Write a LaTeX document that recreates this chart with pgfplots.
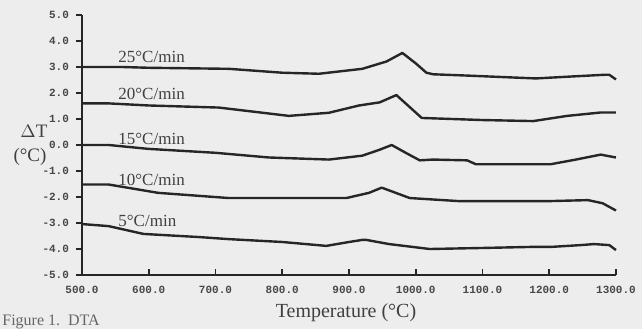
\documentclass[border=0pt]{standalone}
\usepackage{fontspec}
\setmainfont{Liberation Serif}
\newfontfamily\tickfont{Liberation Mono}
\usepackage{pgfplots}
\pgfplotsset{compat=1.18}
\tikzset{dta/.style={color=black!85, mark=none, line width=1.2pt, line join=round}}
\begin{document}
\begin{tikzpicture}[x=1pt,y=1pt]
\fill[black!7] (0,0) rectangle (321,164.5);
\path[use as bounding box] (0,0) rectangle (321,164.5);
\begin{axis}[
  at={(41pt,27pt)}, anchor=south west,
  scale only axis, width=267pt, height=130pt,
  xmin=500, xmax=1300, ymin=-5, ymax=5,
  axis x line=bottom, axis y line=left,
  axis line style={-, line width=0.9pt, black!85},
  xtick={500,600,...,1300},
  xticklabels={500.0,600.0,700.0,800.0,900.0,1000.0,1100.0,1200.0,1300.0},
  ytick={-5,-4,...,5},
  yticklabels={-5.0,-4.0,-3.0,-2.0,-1.0,0.0,1.0,2.0,3.0,4.0,5.0},
  xtick align=inside, ytick align=outside,
  major tick length=3pt,
  tick style={line width=0.8pt, black!85},
  ticklabel style={font=\tickfont\bfseries\fontsize{5.5}{6}\selectfont, text=black!72},
  xticklabel style={yshift=-2pt},
  clip=false,
]
\addplot[dta] coordinates {(500,3.0)(560,3.0)(600,2.97)(720,2.93)(800,2.78)(855,2.74)(920,2.93)(956,3.21)(980,3.54)(1000,3.14)(1016,2.78)(1026,2.72)(1077,2.67)(1180,2.56)(1230,2.63)(1282,2.7)(1290,2.7)(1300,2.52)};
\addplot[dta] coordinates {(500,1.6)(540,1.6)(600,1.52)(705,1.44)(810,1.12)(870,1.24)(915,1.52)(946,1.64)(971,1.92)(990,1.48)(1009,1.04)(1100,0.96)(1176,0.92)(1227,1.12)(1277,1.25)(1300,1.25)};
\addplot[dta] coordinates {(500,0.0)(540,0.0)(600,-0.15)(700,-0.3)(780,-0.48)(870,-0.56)(920,-0.41)(945,-0.19)(964,0.0)(985,-0.3)(1006,-0.59)(1026,-0.56)(1077,-0.59)(1090,-0.74)(1202,-0.74)(1240,-0.56)(1277,-0.37)(1300,-0.48)};
\addplot[dta] coordinates {(500,-1.52)(540,-1.52)(614,-1.84)(720,-2.04)(896,-2.04)(930,-1.84)(949,-1.64)(970,-1.84)(991,-2.04)(1066,-2.16)(1197,-2.16)(1258,-2.12)(1280,-2.24)(1300,-2.52)};
\addplot[dta] coordinates {(500,-3.04)(540,-3.12)(592,-3.42)(675,-3.54)(720,-3.62)(800,-3.73)(866,-3.88)(900,-3.73)(920,-3.65)(926,-3.65)(960,-3.81)(1021,-4.0)(1100,-3.96)(1172,-3.92)(1202,-3.92)(1247,-3.85)(1267,-3.81)(1290,-3.85)(1300,-4.04)};
\begin{scope}[every node/.style={anchor=west, inner sep=0pt, font=\fontsize{8.5}{10}\selectfont, text=black!75}]
\node at (axis cs:554,3.39) {25°C/min};
\node at (axis cs:554,1.96) {20°C/min};
\node at (axis cs:554,0.25) {15°C/min};
\node at (axis cs:554,-1.36) {10°C/min};
\node at (axis cs:554,-2.92) {5°C/min};
\end{scope}
\end{axis}
\node[font=\fontsize{9.5}{11}\selectfont, text=black!75] at (17,99) {$\Delta$T};
\node[font=\fontsize{9.5}{11}\selectfont, text=black!75] at (15,86) {(°C)};
\node[font=\fontsize{10}{12}\selectfont, text=black!75] at (173,8) {Temperature (°C)};
\node[anchor=base west, inner sep=0pt, font=\fontsize{8}{10}\selectfont, text=black!60] at (1,2) {Figure 1.\ \ DTA};
\end{tikzpicture}
\end{document}
